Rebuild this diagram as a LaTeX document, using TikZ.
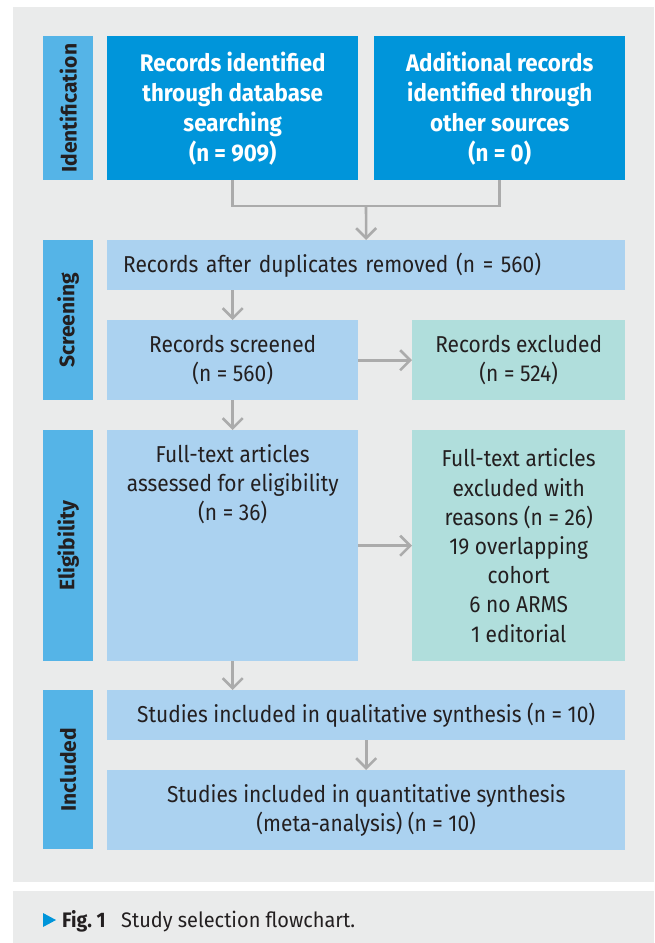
\documentclass[tikz,border=0pt]{standalone}
\usepackage{fontspec}
\setmainfont{Fira Sans}[FakeStretch=0.91]
\newfontfamily\boxbf{Fira Sans}[FakeStretch=0.93]
\newfontfamily\lblfont{Fira Sans}
\newfontfamily\capfont{Fira Sans}[FakeStretch=0.95]
\usetikzlibrary{arrows.meta}
\definecolor{bggray}{HTML}{EAEBEB}
\definecolor{darkblue}{HTML}{0095DA}
\definecolor{lblblue}{HTML}{55B4E7}
\definecolor{lightblue}{HTML}{ABD2F0}
\definecolor{tealbox}{HTML}{B0DEDC}
\definecolor{arrgray}{HTML}{ABABAB}
\definecolor{txt}{HTML}{231F20}
\tikzset{
  base/.style={rectangle, inner sep=0pt, anchor=north west, align=center, text=txt,
    font=\fontsize{23}{29.2}\selectfont},
  lbl/.style={base, fill=lblblue, minimum width=50pt, font=\lblfont\bfseries\fontsize{21}{24}\selectfont},
  topbox/.style={base, fill=darkblue, text=white, minimum width=251pt, minimum height=144pt,
    font=\boxbf\bfseries\fontsize{24}{30}\selectfont},
  lbox/.style={base, fill=lightblue},
  tbox/.style={base, fill=tealbox},
  conn/.style={draw=arrgray, line width=2.6pt},
  arr/.style={conn, -{Straight Barb[length=10pt, width=20pt]}},
}
\begin{document}
\begin{tikzpicture}[x=1pt, y=-1pt]
\useasboundingbox (0,0) rectangle (654,943);
\fill[white] (0,0) rectangle (654,943);
\fill[bggray] (13,7) rectangle (654,882);
\fill[bggray] (13,891) rectangle (654,943);

% side labels
\node[lbl, minimum height=144pt] (lid) at (43,36) {\rotatebox{90}{Identification}};
\node[lbl, minimum height=160pt] (lsc) at (43,240) {\rotatebox{90}{Screening}};
\node[lbl, minimum height=231pt] (lel) at (43,430) {\rotatebox{90}{Eligibility}};
\node[lbl, minimum height=159pt] (lin) at (43,690) {\rotatebox{90}{Included}};

% identification
\node[topbox] (b1) at (107,36) {Records identified\\through database\\searching\\(n = 909)};
\node[topbox] (b2) at (374,36) {Additional records\\identified through\\other sources\\(n = 0)};

% screening
\node[lbox, minimum height=50pt, inner xsep=16pt, text width=486pt, align=left] (dup) at (107,240)
  {Records after duplicates removed (n = 560)};
\node[lbox, minimum width=251pt, minimum height=80pt] (scr) at (107,320) {Records screened\\(n = 560)};
\node[tbox, minimum width=213pt, minimum height=80pt] (exc) at (412,320) {Records excluded\\(n = 524)};

% eligibility
\node[lbox, minimum width=251pt] (full) at (107,430)
  {\parbox[c][231pt][t]{251pt}{\centering\vspace*{14pt}Full-text articles\\assessed for eligibility\\(n = 36)}};
\node[tbox, minimum width=213pt, minimum height=231pt] (fexc) at (412,430)
  {Full-text articles\\excluded with\\reasons (n = 26)\\19 overlapping\\cohort\\6 no ARMS\\1 editorial};

% included
\node[lbox, minimum width=518pt, minimum height=50pt] (qual) at (107,690)
  {Studies included in qualitative synthesis (n = 10)};
\node[lbox, minimum width=518pt, minimum height=80pt] (quant) at (107,770)
  {Studies included in quantitative synthesis\\(meta-analysis) (n = 10)};

% connectors
\coordinate (jm) at (366,206);
\draw[conn] (b1.south) |- (jm) -| (b2.south);
\draw[arr] (jm) -- (dup.north);
\draw[arr] (dup.south -| scr.north) -- (scr.north);
\draw[arr] (scr.east) -- (exc.west);
\draw[arr] (scr.south) -- (full.north);
\draw[arr] (full.east) -- (fexc.west);
\draw[arr] (full.south) -- (qual.north -| full.south);
\draw[arr] (qual.south) -- (quant.north);

% caption
\fill[darkblue] (43,913) -- (56,920) -- (43,927) -- cycle;
\node[anchor=base west, inner sep=0pt, text=txt, font=\boxbf\bfseries\fontsize{21}{24}\selectfont] (figlbl) at (62,927) {Fig.~1};
\node[anchor=base west, inner sep=0pt, text=txt, font=\capfont\fontsize{21}{24}\selectfont] (captxt) at (121,927) {Study selection flowchart.};
\end{tikzpicture}
\end{document}
